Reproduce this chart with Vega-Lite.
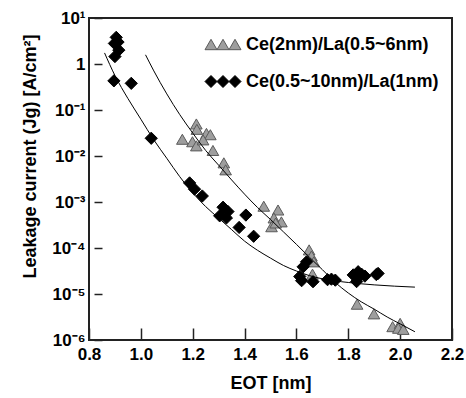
{
  "$schema": "https://vega.github.io/schema/vega-lite/v6.json",
  "width": 363,
  "height": 322,
  "autosize": {"type": "none"},
  "padding": {"left": 89, "top": 18, "right": 14, "bottom": 58},
  "background": "white",
  "config": {
    "view": {"stroke": "#222222", "strokeWidth": 2},
    "font": "Liberation Sans",
    "axis": {
      "grid": false,
      "domain": false,
      "labelFont": "Liberation Sans",
      "labelFontWeight": "bold",
      "labelFontSize": 17,
      "labelColor": "#000000",
      "labelFlush": false,
      "labelOverlap": false,
      "titleFont": "Liberation Sans",
      "titleFontWeight": "bold",
      "titleFontSize": 18,
      "titleColor": "#000000",
      "tickColor": "#222222",
      "tickWidth": 1.5
    }
  },
  "datasets": {
    "points": [
      {"series": "Ce(0.5~10nm)/La(1nm)", "eot": 0.905, "jg": 3.8},
      {"series": "Ce(0.5~10nm)/La(1nm)", "eot": 0.898, "jg": 2.8},
      {"series": "Ce(0.5~10nm)/La(1nm)", "eot": 0.912, "jg": 3.0},
      {"series": "Ce(0.5~10nm)/La(1nm)", "eot": 0.915, "jg": 2.0},
      {"series": "Ce(0.5~10nm)/La(1nm)", "eot": 0.9, "jg": 1.45},
      {"series": "Ce(0.5~10nm)/La(1nm)", "eot": 0.896, "jg": 0.43},
      {"series": "Ce(0.5~10nm)/La(1nm)", "eot": 0.963, "jg": 0.38},
      {"series": "Ce(0.5~10nm)/La(1nm)", "eot": 1.04, "jg": 0.0243},
      {"series": "Ce(0.5~10nm)/La(1nm)", "eot": 1.188, "jg": 0.0026},
      {"series": "Ce(0.5~10nm)/La(1nm)", "eot": 1.207, "jg": 0.0019},
      {"series": "Ce(0.5~10nm)/La(1nm)", "eot": 1.237, "jg": 0.00135},
      {"series": "Ce(0.5~10nm)/La(1nm)", "eot": 1.317, "jg": 0.00077},
      {"series": "Ce(0.5~10nm)/La(1nm)", "eot": 1.336, "jg": 0.00062},
      {"series": "Ce(0.5~10nm)/La(1nm)", "eot": 1.304, "jg": 0.0005},
      {"series": "Ce(0.5~10nm)/La(1nm)", "eot": 1.33, "jg": 0.00045},
      {"series": "Ce(0.5~10nm)/La(1nm)", "eot": 1.405, "jg": 0.00052},
      {"series": "Ce(0.5~10nm)/La(1nm)", "eot": 1.379, "jg": 0.00028},
      {"series": "Ce(0.5~10nm)/La(1nm)", "eot": 1.435, "jg": 0.00018},
      {"series": "Ce(0.5~10nm)/La(1nm)", "eot": 1.626, "jg": 3.9e-5},
      {"series": "Ce(0.5~10nm)/La(1nm)", "eot": 1.639, "jg": 5.0e-5},
      {"series": "Ce(0.5~10nm)/La(1nm)", "eot": 1.613, "jg": 2.4e-5},
      {"series": "Ce(0.5~10nm)/La(1nm)", "eot": 1.62, "jg": 1.95e-5},
      {"series": "Ce(0.5~10nm)/La(1nm)", "eot": 1.664, "jg": 1.85e-5},
      {"series": "Ce(0.5~10nm)/La(1nm)", "eot": 1.72, "jg": 2.05e-5},
      {"series": "Ce(0.5~10nm)/La(1nm)", "eot": 1.735, "jg": 2.1e-5},
      {"series": "Ce(0.5~10nm)/La(1nm)", "eot": 1.75, "jg": 2.0e-5},
      {"series": "Ce(0.5~10nm)/La(1nm)", "eot": 1.819, "jg": 2.6e-5},
      {"series": "Ce(0.5~10nm)/La(1nm)", "eot": 1.838, "jg": 3.05e-5},
      {"series": "Ce(0.5~10nm)/La(1nm)", "eot": 1.851, "jg": 2.7e-5},
      {"series": "Ce(0.5~10nm)/La(1nm)", "eot": 1.832, "jg": 1.86e-5},
      {"series": "Ce(0.5~10nm)/La(1nm)", "eot": 1.864, "jg": 2.45e-5},
      {"series": "Ce(0.5~10nm)/La(1nm)", "eot": 1.915, "jg": 2.8e-5},
      {"series": "Ce(0.5~10nm)/La(1nm)", "eot": 1.908, "jg": 2.65e-5},
      {"series": "Ce(2nm)/La(0.5~6nm)", "eot": 1.214, "jg": 0.0497},
      {"series": "Ce(2nm)/La(0.5~6nm)", "eot": 1.216, "jg": 0.038},
      {"series": "Ce(2nm)/La(0.5~6nm)", "eot": 1.16, "jg": 0.0231},
      {"series": "Ce(2nm)/La(0.5~6nm)", "eot": 1.199, "jg": 0.0204},
      {"series": "Ce(2nm)/La(0.5~6nm)", "eot": 1.214, "jg": 0.0166},
      {"series": "Ce(2nm)/La(0.5~6nm)", "eot": 1.253, "jg": 0.031},
      {"series": "Ce(2nm)/La(0.5~6nm)", "eot": 1.268, "jg": 0.029},
      {"series": "Ce(2nm)/La(0.5~6nm)", "eot": 1.24, "jg": 0.0224},
      {"series": "Ce(2nm)/La(0.5~6nm)", "eot": 1.278, "jg": 0.0132},
      {"series": "Ce(2nm)/La(0.5~6nm)", "eot": 1.32, "jg": 0.0071},
      {"series": "Ce(2nm)/La(0.5~6nm)", "eot": 1.327, "jg": 0.005},
      {"series": "Ce(2nm)/La(0.5~6nm)", "eot": 1.474, "jg": 0.00081},
      {"series": "Ce(2nm)/La(0.5~6nm)", "eot": 1.529, "jg": 0.00067},
      {"series": "Ce(2nm)/La(0.5~6nm)", "eot": 1.513, "jg": 0.00045},
      {"series": "Ce(2nm)/La(0.5~6nm)", "eot": 1.542, "jg": 0.00037},
      {"series": "Ce(2nm)/La(0.5~6nm)", "eot": 1.504, "jg": 0.00029},
      {"series": "Ce(2nm)/La(0.5~6nm)", "eot": 1.52, "jg": 0.00035},
      {"series": "Ce(2nm)/La(0.5~6nm)", "eot": 1.649, "jg": 9.1e-5},
      {"series": "Ce(2nm)/La(0.5~6nm)", "eot": 1.658, "jg": 6.7e-5},
      {"series": "Ce(2nm)/La(0.5~6nm)", "eot": 1.667, "jg": 5.0e-5},
      {"series": "Ce(2nm)/La(0.5~6nm)", "eot": 1.662, "jg": 2.7e-5},
      {"series": "Ce(2nm)/La(0.5~6nm)", "eot": 1.834, "jg": 6.0e-6},
      {"series": "Ce(2nm)/La(0.5~6nm)", "eot": 1.899, "jg": 3.7e-6},
      {"series": "Ce(2nm)/La(0.5~6nm)", "eot": 1.971, "jg": 1.95e-6},
      {"series": "Ce(2nm)/La(0.5~6nm)", "eot": 2.0, "jg": 2.3e-6},
      {"series": "Ce(2nm)/La(0.5~6nm)", "eot": 1.993, "jg": 1.8e-6},
      {"series": "Ce(2nm)/La(0.5~6nm)", "eot": 2.012, "jg": 1.7e-6}
    ],
    "fits": [
      {"fit": "lower", "eot": 0.86, "jg": 1.74},
      {"fit": "lower", "eot": 0.9, "jg": 0.562},
      {"fit": "lower", "eot": 0.95, "jg": 0.178},
      {"fit": "lower", "eot": 1.0, "jg": 0.0631},
      {"fit": "lower", "eot": 1.05, "jg": 0.0224},
      {"fit": "lower", "eot": 1.1, "jg": 0.00891},
      {"fit": "lower", "eot": 1.15, "jg": 0.00355},
      {"fit": "lower", "eot": 1.2, "jg": 0.00158},
      {"fit": "lower", "eot": 1.25, "jg": 0.000794},
      {"fit": "lower", "eot": 1.3, "jg": 0.000447},
      {"fit": "lower", "eot": 1.35, "jg": 0.000251},
      {"fit": "lower", "eot": 1.4, "jg": 0.000141},
      {"fit": "lower", "eot": 1.45, "jg": 8.91e-5},
      {"fit": "lower", "eot": 1.5, "jg": 6.03e-5},
      {"fit": "lower", "eot": 1.55, "jg": 4.17e-5},
      {"fit": "lower", "eot": 1.6, "jg": 3.16e-5},
      {"fit": "lower", "eot": 1.65, "jg": 2.51e-5},
      {"fit": "lower", "eot": 1.7, "jg": 2.14e-5},
      {"fit": "lower", "eot": 1.8, "jg": 1.78e-5},
      {"fit": "lower", "eot": 1.9, "jg": 1.58e-5},
      {"fit": "lower", "eot": 2.057, "jg": 1.41e-5},
      {"fit": "upper", "eot": 1.018, "jg": 1.585},
      {"fit": "upper", "eot": 1.05, "jg": 0.708},
      {"fit": "upper", "eot": 1.1, "jg": 0.224},
      {"fit": "upper", "eot": 1.15, "jg": 0.0794},
      {"fit": "upper", "eot": 1.2, "jg": 0.0316},
      {"fit": "upper", "eot": 1.25, "jg": 0.0132},
      {"fit": "upper", "eot": 1.3, "jg": 0.00631},
      {"fit": "upper", "eot": 1.35, "jg": 0.00302},
      {"fit": "upper", "eot": 1.4, "jg": 0.00148},
      {"fit": "upper", "eot": 1.45, "jg": 0.000759},
      {"fit": "upper", "eot": 1.5, "jg": 0.000417},
      {"fit": "upper", "eot": 1.55, "jg": 0.000224},
      {"fit": "upper", "eot": 1.6, "jg": 0.00012},
      {"fit": "upper", "eot": 1.65, "jg": 6.31e-5},
      {"fit": "upper", "eot": 1.7, "jg": 3.39e-5},
      {"fit": "upper", "eot": 1.75, "jg": 1.78e-5},
      {"fit": "upper", "eot": 1.8, "jg": 1.05e-5},
      {"fit": "upper", "eot": 1.85, "jg": 6.76e-6},
      {"fit": "upper", "eot": 1.9, "jg": 4.68e-6},
      {"fit": "upper", "eot": 1.95, "jg": 3.16e-6},
      {"fit": "upper", "eot": 2.0, "jg": 2.24e-6},
      {"fit": "upper", "eot": 2.057, "jg": 1.51e-6}
    ]
  },
  "encoding": {
    "x": {
      "field": "eot",
      "type": "quantitative",
      "scale": {"domain": [0.8, 2.2], "nice": false, "zero": false},
      "axis": {
        "title": "EOT [nm]",
        "values": [0.8, 1.0, 1.2, 1.4, 1.6, 1.8, 2.0, 2.2],
        "format": ".1f",
        "tickSize": -12,
        "labelPadding": 18,
        "titleX": 181.5,
        "titleY": 43,
        "titleAlign": "center",
        "titleBaseline": "middle"
      }
    },
    "y": {
      "field": "jg",
      "type": "quantitative",
      "scale": {"type": "log", "domain": [1e-6, 10], "nice": false},
      "axis": {
        "title": "Leakage current (Jg) [A/cm²]",
        "values": [1e-6, 1e-5, 1e-4, 1e-3, 1e-2, 1e-1, 1, 10],
        "labelExpr": "['10⁻⁶','10⁻⁵','10⁻⁴','10⁻³','10⁻²','10⁻¹','1','10¹'][round(log(datum.value)/LN10)+6]",
        "offset": -5,
        "tickSize": -8,
        "labelPadding": 17,
        "titleAngle": -90,
        "titleX": -64,
        "titleY": 138,
        "titleAlign": "center",
        "titleBaseline": "middle"
      }
    }
  },
  "layer": [
    {
      "data": {"name": "points"},
      "transform": [{"filter": "datum.eot < 0"}],
      "mark": {"type": "point", "filled": true, "opacity": 1, "size": 144, "strokeWidth": 1},
      "encoding": {
        "shape": {
          "field": "series",
          "type": "nominal",
          "scale": {
            "domain": ["Ce(2nm)/La(0.5~6nm)", "Ce(0.5~10nm)/La(1nm)"],
            "range": [
              "M-3,0.866L-1,0.866L-2,-0.866Z M-1,0.866L1,0.866L0,-0.866Z M1,0.866L3,0.866L2,-0.866Z",
              "M-3,0L-2,-1L-1,0L-2,1Z M-1,0L0,-1L1,0L0,1Z M1,0L2,-1L3,0L2,1Z"
            ]
          },
          "legend": {
            "orient": "none",
            "legendX": 125,
            "legendY": 17.5,
            "title": null,
            "padding": 0,
            "labelFont": "Liberation Sans",
            "labelFontWeight": "bold",
            "labelFontSize": 18,
            "labelColor": "#000000",
            "labelLimit": 400,
            "labelOffset": 14,
            "rowPadding": 19,
            "symbolSize": 144,
            "symbolStrokeWidth": 1,
            "symbolOpacity": 1
          }
        },
        "color": {
          "field": "series",
          "type": "nominal",
          "scale": {"domain": ["Ce(2nm)/La(0.5~6nm)", "Ce(0.5~10nm)/La(1nm)"], "range": ["#9e9e9e", "#000000"]}
        },
        "stroke": {
          "field": "series",
          "type": "nominal",
          "scale": {"domain": ["Ce(2nm)/La(0.5~6nm)", "Ce(0.5~10nm)/La(1nm)"], "range": ["#5a5a5a", "#000000"]}
        }
      }
    },
    {
      "data": {"name": "points"},
      "transform": [{"filter": "datum.series == 'Ce(2nm)/La(0.5~6nm)'"}],
      "mark": {"type": "point", "shape": "triangle-up", "filled": true, "opacity": 1, "size": 135, "fill": "#9e9e9e", "stroke": "#5a5a5a", "strokeWidth": 1}
    },
    {
      "data": {"name": "points"},
      "transform": [{"filter": "datum.series == 'Ce(0.5~10nm)/La(1nm)'"}],
      "mark": {"type": "point", "shape": "diamond", "filled": true, "opacity": 1, "size": 150, "fill": "#000000", "stroke": "#000000", "strokeWidth": 1}
    },
    {
      "data": {"name": "fits"},
      "mark": {"type": "line", "color": "#000000", "strokeWidth": 1, "interpolate": "monotone"},
      "encoding": {
        "detail": {"field": "fit", "type": "nominal"}
      }
    }
  ]
}
